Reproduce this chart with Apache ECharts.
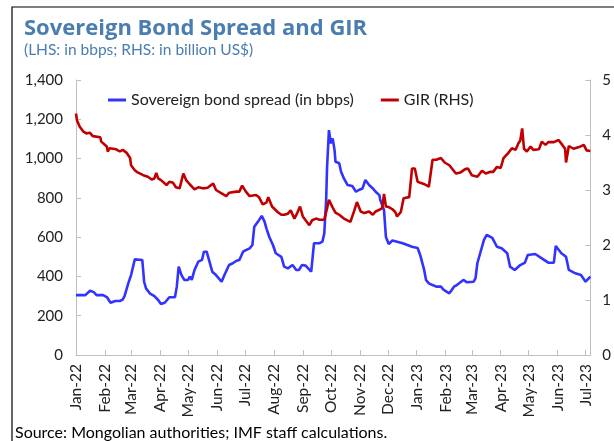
<!DOCTYPE html>
<html>
<head>
<meta charset="utf-8">
<script src="https://cdn.jsdelivr.net/npm/echarts@6/dist/echarts.min.js"></script>
<style>
  html, body { margin: 0; padding: 0; background: #fff; }
  #chart { width: 614px; height: 441px; }
</style>
</head>
<body>
<div id="chart"></div>
<script>
// 主权债券利差 (bps) 与外汇储备 GIR (十亿美元)
var monthNames = ['Jan', 'Feb', 'Mar', 'Apr', 'May', 'Jun', 'Jul', 'Aug', 'Sep', 'Oct', 'Nov', 'Dec'];
var leftTicks = [0, 200, 400, 600, 800, 1000, 1200, 1400];
var rightTicks = [0, 1, 2, 3, 4, 5];

var spreadDates = [
  '2022-01-01', '2022-01-11', '2022-01-16', '2022-01-20', '2022-01-23', '2022-01-30', '2022-02-03', '2022-02-07',
  '2022-02-12', '2022-02-17', '2022-02-20', '2022-02-22', '2022-02-26', '2022-03-01', '2022-03-05', '2022-03-07',
  '2022-03-13', '2022-03-15', '2022-03-17', '2022-03-21', '2022-03-26', '2022-03-30', '2022-04-02', '2022-04-06',
  '2022-04-08', '2022-04-11', '2022-04-13', '2022-04-17', '2022-04-19', '2022-04-21', '2022-04-24', '2022-04-27',
  '2022-05-01', '2022-05-03', '2022-05-05', '2022-05-08', '2022-05-12', '2022-05-16', '2022-05-18', '2022-05-21',
  '2022-05-24', '2022-05-27', '2022-05-31', '2022-06-06', '2022-06-09', '2022-06-14', '2022-06-18', '2022-06-22',
  '2022-06-25', '2022-06-29', '2022-07-02', '2022-07-06', '2022-07-09', '2022-07-11', '2022-07-15', '2022-07-19',
  '2022-07-22', '2022-07-24', '2022-07-27', '2022-07-31', '2022-08-03', '2022-08-09', '2022-08-12', '2022-08-16',
  '2022-08-18', '2022-08-21', '2022-08-25', '2022-08-28', '2022-08-31', '2022-09-04', '2022-09-10', '2022-09-11',
  '2022-09-13', '2022-09-19', '2022-09-22', '2022-09-24', '2022-09-26', '2022-09-27', '2022-09-29', '2022-10-01',
  '2022-10-03', '2022-10-05', '2022-10-06', '2022-10-10', '2022-10-12', '2022-10-15', '2022-10-19', '2022-10-24',
  '2022-10-28', '2022-10-31', '2022-11-04', '2022-11-07', '2022-11-11', '2022-11-15', '2022-11-18', '2022-11-22',
  '2022-11-23', '2022-11-27', '2022-11-29', '2022-12-02', '2022-12-06', '2022-12-11', '2022-12-17', '2022-12-22',
  '2022-12-27', '2023-01-02', '2023-01-05', '2023-01-09', '2023-01-11', '2023-01-14', '2023-01-18', '2023-01-22',
  '2023-01-27', '2023-01-30', '2023-02-05', '2023-02-06', '2023-02-10', '2023-02-13', '2023-02-20', '2023-02-24',
  '2023-03-03', '2023-03-05', '2023-03-07', '2023-03-10', '2023-03-14', '2023-03-17', '2023-03-23', '2023-03-28',
  '2023-04-02', '2023-04-08', '2023-04-11', '2023-04-16', '2023-04-22', '2023-04-27', '2023-04-30', '2023-05-08',
  '2023-05-15', '2023-05-22', '2023-05-28', '2023-05-30', '2023-06-05', '2023-06-10', '2023-06-13', '2023-06-20',
  '2023-06-26', '2023-07-01', '2023-07-03', '2023-07-06'
];
var spreadVals = [
  305, 305, 327, 320, 305, 305, 295, 266,
  275, 275, 282, 300, 365, 407, 487, 492,
  484, 373, 339, 314, 300, 280, 260, 266,
  263, 294, 287, 294, 348, 450, 407, 382,
  382, 399, 382, 433, 475, 484, 526, 526,
  475, 424, 407, 373, 407, 458, 467, 480,
  484, 526, 534, 543, 560, 653, 679, 708,
  679, 645, 602, 560, 518, 500, 450, 441,
  450, 458, 433, 433, 458, 455, 424, 424,
  569, 569, 577, 619, 789, 958, 1145, 1078,
  1103, 1043, 984, 976, 933, 899, 865, 860,
  831, 840, 848, 891, 865, 848, 831, 814,
  789, 738, 602, 565, 583, 577, 569, 560,
  551, 545, 505, 433, 382, 365, 356, 348,
  348, 331, 314, 305, 348, 356, 382, 370,
  373, 390, 467, 518, 585, 611, 596, 551,
  543, 518, 450, 433, 458, 470, 509, 514,
  492, 470, 470, 555, 518, 500, 433, 416,
  407, 373, 375, 399
];

var girDates = [
  '2022-01-01', '2022-01-02', '2022-01-05', '2022-01-09', '2022-01-12', '2022-01-16', '2022-01-19', '2022-01-27',
  '2022-01-28', '2022-01-30', '2022-02-03', '2022-02-04', '2022-02-06', '2022-02-13', '2022-02-17', '2022-02-20',
  '2022-02-24', '2022-02-28', '2022-03-01', '2022-03-05', '2022-03-08', '2022-03-14', '2022-03-19', '2022-03-23',
  '2022-03-26', '2022-03-28', '2022-03-30', '2022-04-02', '2022-04-08', '2022-04-11', '2022-04-15', '2022-04-18',
  '2022-04-22', '2022-04-26', '2022-04-29', '2022-05-03', '2022-05-08', '2022-05-12', '2022-05-17', '2022-05-22',
  '2022-05-28', '2022-05-31', '2022-06-06', '2022-06-11', '2022-06-14', '2022-06-22', '2022-06-25', '2022-06-28',
  '2022-07-02', '2022-07-06', '2022-07-13', '2022-07-16', '2022-07-20', '2022-07-24', '2022-07-26', '2022-07-30',
  '2022-08-01', '2022-08-05', '2022-08-09', '2022-08-12', '2022-08-16', '2022-08-19', '2022-08-23', '2022-08-26',
  '2022-08-29', '2022-09-01', '2022-09-04', '2022-09-08', '2022-09-11', '2022-09-15', '2022-09-19', '2022-09-24',
  '2022-09-27', '2022-09-29', '2022-10-03', '2022-10-06', '2022-10-10', '2022-10-15', '2022-10-22', '2022-10-26',
  '2022-10-29', '2022-11-02', '2022-11-06', '2022-11-11', '2022-11-15', '2022-11-18', '2022-11-22', '2022-11-25',
  '2022-11-27', '2022-11-29', '2022-12-02', '2022-12-06', '2022-12-09', '2022-12-11', '2022-12-15', '2022-12-18',
  '2022-12-24', '2022-12-27', '2022-12-30', '2023-01-02', '2023-01-05', '2023-01-10', '2023-01-14', '2023-01-18',
  '2023-01-22', '2023-01-27', '2023-01-31', '2023-02-05', '2023-02-12', '2023-02-17', '2023-02-22', '2023-02-25',
  '2023-03-01', '2023-03-07', '2023-03-12', '2023-03-16', '2023-03-21', '2023-03-24', '2023-03-28', '2023-04-01',
  '2023-04-04', '2023-04-09', '2023-04-13', '2023-04-17', '2023-04-20', '2023-04-22', '2023-04-24', '2023-04-26',
  '2023-04-29', '2023-05-03', '2023-05-06', '2023-05-12', '2023-05-15', '2023-05-19', '2023-05-22', '2023-05-28',
  '2023-06-02', '2023-06-06', '2023-06-09', '2023-06-10', '2023-06-13', '2023-06-18', '2023-06-24', '2023-06-29',
  '2023-07-02', '2023-07-06'
];
var girVals = [
  4.39, 4.27, 4.15, 4.06, 4.03, 4.04, 3.98, 3.96,
  3.88, 3.85, 3.79, 3.70, 3.76, 3.74, 3.70, 3.73,
  3.68, 3.58, 3.45, 3.36, 3.32, 3.27, 3.24, 3.19,
  3.21, 3.31, 3.21, 3.18, 3.09, 3.15, 3.13, 3.05,
  3.03, 3.30, 3.18, 3.10, 3.01, 3.05, 3.03, 3.04,
  3.12, 3.00, 2.94, 2.89, 2.95, 2.97, 2.97, 3.08,
  2.97, 2.89, 2.91, 2.87, 2.74, 2.77, 2.87, 2.70,
  2.67, 2.60, 2.55, 2.55, 2.57, 2.63, 2.48, 2.58,
  2.70, 2.52, 2.45, 2.36, 2.45, 2.48, 2.46, 2.46,
  2.67, 2.82, 2.68, 2.59, 2.55, 2.48, 2.42, 2.62,
  2.78, 2.61, 2.58, 2.61, 2.55, 2.61, 2.64, 2.67,
  2.93, 2.70, 2.69, 2.65, 2.60, 2.52, 2.60, 2.85,
  2.87, 3.39, 3.39, 3.15, 3.13, 3.10, 3.06, 3.55,
  3.55, 3.58, 3.50, 3.45, 3.30, 3.32, 3.38, 3.39,
  3.27, 3.24, 3.35, 3.30, 3.33, 3.33, 3.42, 3.40,
  3.58, 3.67, 3.76, 3.73, 3.85, 3.90, 4.12, 3.75,
  3.70, 3.79, 3.73, 3.74, 3.88, 3.82, 3.87, 3.87,
  3.91, 3.82, 3.75, 3.50, 3.80, 3.75, 3.78, 3.82,
  3.72, 3.71
];

var startDay = Date.UTC(2022, 0, 1);
var endDay = Date.UTC(2023, 6, 6);

function pad(n) {
  return n < 10 ? '0' + n : '' + n;
}

// 每天一个类目，月初显示刻度和标签
var days = [];
for (var t = startDay; t <= endDay; t += 86400000) {
  var d = new Date(t);
  days.push(d.getUTCFullYear() + '-' + pad(d.getUTCMonth() + 1) + '-' + pad(d.getUTCDate()));
}

function isMonthStart(idx, val) {
  return val.slice(8) === '01';
}

function monthLabel(val) {
  return monthNames[parseInt(val.slice(5, 7), 10) - 1] + '-' + val.slice(2, 4);
}

function withComma(v) {
  return String(v).replace(/\B(?=(\d{3})+(?!\d))/g, ',');
}

var chart = echarts.init(document.getElementById('chart'));
var fontName = 'Lato';

chart.setOption({
  animation: false,
  textStyle: { fontFamily: fontName },
  title: {
    text: 'Sovereign Bond Spread and GIR',
    subtext: '(LHS: in bbps; RHS: in billion US$)',
    left: 19,
    top: 13,
    itemGap: 2,
    textStyle: { fontFamily: 'Open Sans', fontSize: 22, fontWeight: 'bold', color: '#4a7eb0' },
    subtextStyle: { fontFamily: fontName, fontSize: 15.5, color: '#4a7eb0' }
  },
  graphic: [
    {
      type: 'rect',
      shape: { x: 12, y: 7, width: 700, height: 500 },
      style: { fill: 'none', stroke: '#000', lineWidth: 1.2 },
      silent: true
    },
    {
      type: 'text',
      left: 15,
      top: 425,
      style: { text: 'Source: Mongolian authorities; IMF staff calculations.', fontFamily: fontName, fontSize: 16, fill: '#000' }
    }
  ],
  legend: {
    left: 103,
    top: 87,
    icon: 'rect',
    itemWidth: 18,
    itemHeight: 3,
    itemGap: 27,
    textStyle: { fontFamily: fontName, fontSize: 16, color: '#222' },
    data: ['Sovereign bond spread (in bbps)', 'GIR (RHS)']
  },
  grid: {
    left: 76,
    right: 22,
    top: 80,
    bottom: 86
  },
  xAxis: {
    type: 'category',
    data: days,
    boundaryGap: false,
    axisLine: { lineStyle: { color: '#bfbfbf' } },
    axisTick: { inside: true, length: 5, interval: isMonthStart, lineStyle: { color: '#bfbfbf' } },
    axisLabel: {
      interval: isMonthStart,
      rotate: 90,
      margin: 9,
      fontFamily: fontName,
      fontSize: 15.5,
      color: '#222',
      formatter: monthLabel
    },
    splitLine: { show: false }
  },
  yAxis: [
    {
      type: 'value',
      min: leftTicks[0],
      max: leftTicks[leftTicks.length - 1],
      interval: leftTicks[1] - leftTicks[0],
      axisLine: { show: true, lineStyle: { color: '#bfbfbf' } },
      axisTick: { show: true, inside: true, length: 5, lineStyle: { color: '#bfbfbf' } },
      axisLabel: { fontFamily: fontName, fontSize: 15, color: '#222', margin: 13, formatter: withComma },
      splitLine: { show: false }
    },
    {
      type: 'value',
      min: rightTicks[0],
      max: rightTicks[rightTicks.length - 1],
      interval: rightTicks[1] - rightTicks[0],
      axisLine: { show: true, lineStyle: { color: '#bfbfbf' } },
      axisTick: { show: true, inside: true, length: 5, lineStyle: { color: '#bfbfbf' } },
      axisLabel: { fontFamily: fontName, fontSize: 15, color: '#222', margin: 12 },
      splitLine: { show: false }
    }
  ],
  series: [
    {
      name: 'Sovereign bond spread (in bbps)',
      type: 'line',
      yAxisIndex: 0,
      showSymbol: false,
      color: '#3333ff',
      lineStyle: { width: 2.6, color: '#3333ff' },
      data: spreadDates.map(function (d, i) { return [d, spreadVals[i]]; })
    },
    {
      name: 'GIR (RHS)',
      type: 'line',
      yAxisIndex: 1,
      showSymbol: false,
      color: '#c00000',
      lineStyle: { width: 2.6, color: '#c00000' },
      data: girDates.map(function (d, i) { return [d, girVals[i]]; })
    }
  ]
});
</script>
</body>
</html>
